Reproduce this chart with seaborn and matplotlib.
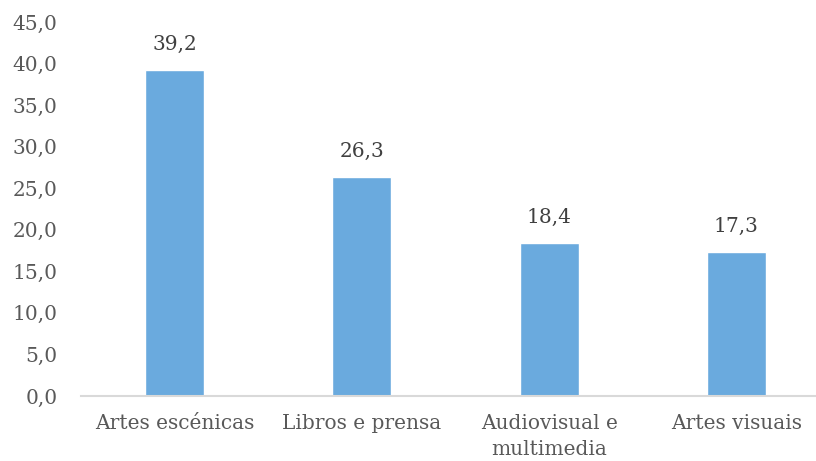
import matplotlib
matplotlib.use("Agg")
import matplotlib.pyplot as plt
import seaborn as sns
import pandas as pd

# Data
categories = ["Artes escénicas", "Libros e prensa", "Audiovisual e\nmultimedia", "Artes visuais"]
values = [39.2, 26.3, 18.4, 17.3]
y_ticks = [0, 5, 10, 15, 20, 25, 30, 35, 40, 45]

df = pd.DataFrame({"Categoria": categories, "Valor": values})

sns.set_theme(style="white")
plt.rcParams["font.family"] = ["DejaVu Serif"]

text_color = "#595959"
bar_color = "#6AAADE"
fs = 14.5

fig = plt.figure(figsize=(8.16, 4.61), dpi=100)
ax = fig.add_axes([81 / 816, 1 - 396 / 461, 749 / 816, (396 - 22) / 461])

sns.barplot(data=df, x="Categoria", y="Valor", color=bar_color, width=0.315,
            saturation=1, ax=ax)

for container in ax.containers:
    ax.bar_label(container, labels=[f"{v:.1f}".replace(".", ",") for v in values],
                 padding=12, fontsize=fs, color="#404040")

ax.set_ylim(0, 45)
ax.set_yticks(y_ticks)
ax.set_yticklabels([f"{t:.1f}".replace(".", ",") for t in y_ticks])
ax.set_xlabel("")
ax.set_ylabel("")
ax.tick_params(axis="both", length=0, labelsize=fs, colors=text_color)
ax.tick_params(axis="y", pad=17)
ax.tick_params(axis="x", pad=13)
for lbl in ax.get_xticklabels():
    lbl.set_linespacing(1.45)

for side in ["top", "right", "left"]:
    ax.spines[side].set_visible(False)
ax.spines["bottom"].set_color("#D9D9D9")
ax.spines["bottom"].set_linewidth(1.5)

fig.savefig("out.png", dpi=100)
